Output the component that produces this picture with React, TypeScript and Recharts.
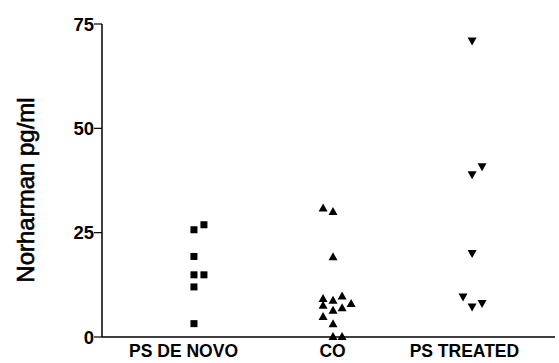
import React from 'react';
import { ScatterChart, Scatter, XAxis, YAxis } from 'recharts';

// group tick positions on a 0..100 horizontal scale
const groupTicks = [18, 50.9, 80];
const groupNames = ['PS DE NOVO', 'CO', 'PS TREATED'];

// PS de novo (squares)
const deNovoX = [20.3, 22.5, 20.3, 20.3, 22.5, 20.3, 20.3];
const deNovoY = [25.7, 26.9, 19.3, 14.9, 14.9, 12.0, 3.2];

// controls (triangles)
const coX = [48.8, 51.0, 51.0, 48.8, 51.0, 53.0, 55.0, 48.8, 53.0, 51.0, 48.8, 51.0, 51.0, 53.0];
const coY = [30.9, 30.1, 19.2, 9.2, 8.8, 9.8, 8.0, 7.6, 7.0, 6.4, 4.9, 3.2, 0.1, 0.1];

// PS treated (inverted triangles)
const treatedX = [81.7, 83.9, 81.7, 81.7, 79.7, 81.7, 83.9];
const treatedY = [70.9, 40.8, 38.9, 20.0, 9.6, 7.2, 8.0];

const yTicks = [0, 25, 50, 75];

const toPoints = (xs: number[], ys: number[]) => xs.map((x, i) => ({ x, y: ys[i] }));

const deNovo = toPoints(deNovoX, deNovoY);
const controls = toPoints(coX, coY);
const treated = toPoints(treatedX, treatedY);

const Square = (props: any) => {
  const { cx, cy } = props;
  return <rect x={cx - 3.5} y={cy - 3.5} width={7} height={7} fill="#000" />;
};

const TriUp = (props: any) => {
  const { cx, cy } = props;
  return <path d={`M${cx},${cy - 4.5} L${cx + 4.5},${cy + 3.5} L${cx - 4.5},${cy + 3.5} Z`} fill="#000" />;
};

const TriDown = (props: any) => {
  const { cx, cy } = props;
  return <path d={`M${cx - 4.5},${cy - 3.5} L${cx + 4.5},${cy - 3.5} L${cx},${cy + 4.5} Z`} fill="#000" />;
};

const font = '"Liberation Sans", Arial, sans-serif';

export default function App() {
  return (
    <div style={{ position: 'absolute', left: 0, top: 0, background: '#fff' }}>
      <ScatterChart width={559} height={363} margin={{ top: 24, right: 4, bottom: 0, left: 0 }}>
        <XAxis
          type="number"
          dataKey="x"
          domain={[0, 100]}
          ticks={groupTicks}
          tickFormatter={(v: number) => groupNames[groupTicks.indexOf(v)] ?? ''}
          tickLine={false}
          axisLine={{ stroke: '#000', strokeWidth: 1.5 }}
          tick={{ fill: '#000', fontSize: 17.5, fontWeight: 'bold', fontFamily: font, dy: 2 }}
          tickMargin={0}
          height={26}
          interval={0}
        />
        <YAxis
          type="number"
          dataKey="y"
          domain={[0, 75]}
          ticks={yTicks}
          width={102}
          tickSize={8}
          tickMargin={0}
          axisLine={{ stroke: '#000', strokeWidth: 1.5 }}
          tickLine={{ stroke: '#000', strokeWidth: 1.2 }}
          tick={{ fill: '#000', fontSize: 18.5, fontWeight: 'bold', fontFamily: font }}
          label={{
            content: () => (
              <text
                x={34}
                y={190}
                transform="rotate(-90 34 190)"
                textAnchor="middle"
                fontSize={24}
                fontFamily={font}
                fill="#000"
                stroke="#000"
                strokeWidth={0.6}
              >
                Norharman pg/ml
              </text>
            ),
          }}
        />
        <Scatter data={deNovo} shape={Square} isAnimationActive={false} />
        <Scatter data={controls} shape={TriUp} isAnimationActive={false} />
        <Scatter data={treated} shape={TriDown} isAnimationActive={false} />
      </ScatterChart>
    </div>
  );
}
